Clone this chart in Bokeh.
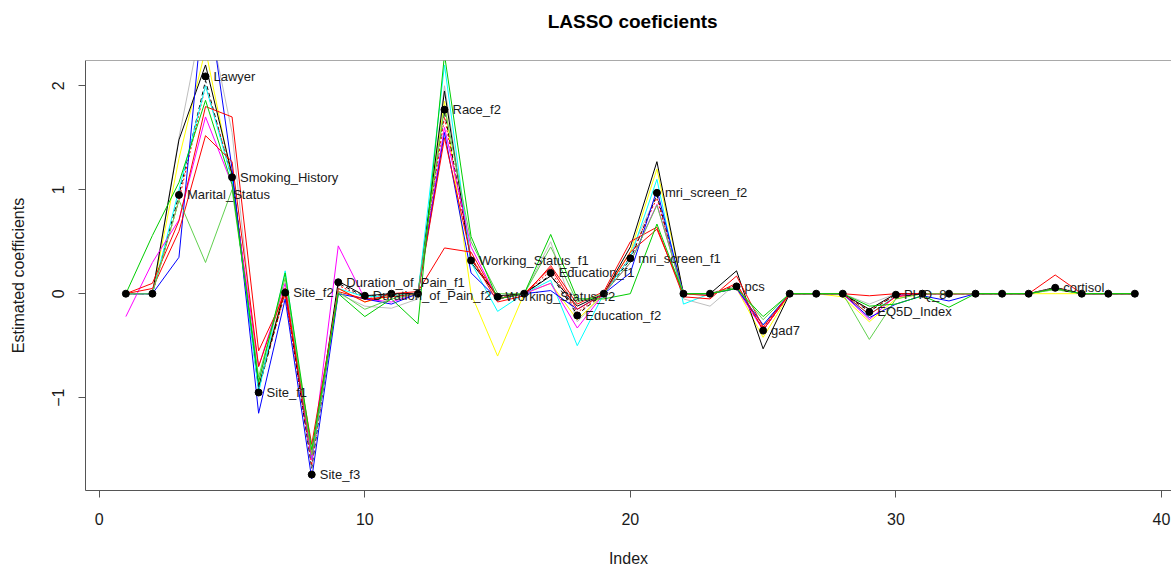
from bokeh.plotting import figure
from bokeh.layouts import column
from bokeh.models import Range1d, Span, FixedTicker, ColumnDataSource
from bokeh.core.properties import value
from bokeh.embed import file_html
from bokeh.resources import INLINE

# Coefficient index (1..39)
index = list(range(1, 40))

# Final (averaged) LASSO coefficients, drawn as black dots
coef = [0, 0, 0.95, 2.09, 1.12, -0.95, 0.01, -1.74, 0.11, -0.02,
        0, 0, 1.77, 0.32, -0.03, 0, 0.20, -0.21, 0, 0.34,
        0.97, 0, 0, 0.07, -0.355, 0, 0, 0, -0.175, -0.01,
        0, 0, 0, 0, 0, 0.057, 0, 0, 0]

# Names written next to the non-zero coefficients
names = ["", "", "Marital_Status", "Lawyer", "Smoking_History", "Site_f1", "Site_f2", "Site_f3",
         "Duration_of_Pain_f1", "Duration_of_Pain_f2", "", "", "Race_f2", "Working_Status_f1",
         "Working_Status_f2", "", "Education_f1", "Education_f2", "", "mri_screen_f1",
         "mri_screen_f2", "", "", "pcs", "gad7", "", "", "", "EQ5D_Index", "PHQ_8",
         "", "", "", "", "", "cortisol", "", "", ""]

# Coefficients from the individual resampled fits
run_gray = [0, 0, 1.5, 2.8, 1.55, -0.85, 0.05, -1.6, 0.0, -0.12,
            -0.14, -0.05, 2.0, 0.35, -0.05, 0, 0.5, -0.27, 0, 0.4,
            0.95, -0.05, -0.12, 0.1, -0.35, 0, 0, 0, -0.1, 0,
            0, 0, 0, 0, 0, 0.04, 0, 0, 0]
run_yellow = [0, 0, 1.3, 2.35, 1.1, -0.9, 0.05, -1.6, 0.05, -0.08,
              -0.02, 0, 1.85, 0.0, -0.6, 0, 0.1, -0.25, 0, 0.4,
              1.2, 0, 0, 0.05, -0.42, 0, 0, -0.03, -0.27, -0.05,
              0, 0, 0, 0, 0, 0.0, 0, 0, 0]
run_black_dash = [0, 0, 0.95, 2.05, 1.1, -0.92, 0.02, -1.68, 0.1, -0.03,
                  0, 0, 1.75, 0.33, -0.03, 0, 0.18, -0.2, 0, 0.33,
                  0.95, 0, 0, 0.07, -0.35, 0, 0, 0, -0.17, -0.01,
                  0, 0, 0, 0, 0, 0.05, 0, 0, 0]
run_red_dot = [0, 0, 0.9, 2.0, 1.15, -0.9, 0.0, -1.65, 0.08, -0.04,
               0, 0, 1.7, 0.35, -0.04, 0, 0.22, -0.18, 0, 0.36,
               0.92, 0, 0, 0.08, -0.33, 0, 0, 0, -0.16, -0.01,
               0, 0, 0, 0, 0, 0.06, 0, 0, 0]
run_black = [0, 0, 1.48, 2.2, 1.15, -0.9, 0.05, -1.6, 0.12, -0.02,
             0, 0, 1.95, 0.3, -0.02, 0, 0.17, -0.12, 0, 0.45,
             1.27, 0, 0, 0.22, -0.53, 0, 0, 0, -0.15, 0,
             0, 0, 0, 0, 0, 0.06, 0, 0, 0]
run_cyan = [0, 0, 1.0, 2.0, 1.1, -0.95, 0.22, -1.6, 0.05, -0.03,
            -0.02, 0, 2.2, 0.3, -0.17, 0, 0.13, -0.5, 0, 0.35,
            1.1, -0.1, 0, 0.05, -0.3, 0, 0, 0, -0.2, -0.02,
            0, 0, 0, 0, 0, 0.05, 0, 0, 0]
run_magenta = [-0.22, 0.3, 0.71, 1.7, 1.05, -0.7, 0.1, -1.6, 0.46, -0.05,
               -0.08, 0, 1.6, 0.45, -0.05, 0, 0.1, -0.33, 0, 0.3,
               0.86, 0, 0, 0.05, -0.35, 0, 0, 0, -0.25, -0.02,
               0, 0, 0, 0, 0, 0.05, 0, 0, 0]
run_blue = [0, 0, 0.35, 3.0, 1.2, -1.15, -0.05, -1.78, 0.0, -0.05,
            -0.1, 0, 1.55, 0.2, -0.05, 0.0, 0.03, -0.15, 0, 0.2,
            1.0, 0, 0, 0.05, -0.3, 0, 0, 0, -0.23, -0.1,
            -0.02, -0.07, 0, 0, 0, 0.05, 0, 0, 0]
run_red_b = [0, 0.05, 0.6, 1.52, 1.27, -0.7, 0.05, -1.55, 0.05, -0.08,
             0, 0.02, 0.44, 0.4, -0.05, 0, 0.25, -0.15, 0, 0.4,
             0.62, 0, -0.02, 0.1, -0.35, 0, 0, 0, -0.2, -0.03,
             0, 0, 0, 0, 0, 0.05, 0, 0, 0]
run_red_a = [0, 0.1, 0.7, 1.8, 1.7, -0.55, 0.0, -1.45, 0.02, -0.05,
             -0.03, 0, 1.5, 0.35, -0.08, -0.02, 0.27, -0.1, 0.02, 0.5,
             0.64, -0.03, -0.05, 0.17, -0.32, 0, 0, 0, -0.02, 0,
             0, 0, 0, 0, 0, 0.18, 0, 0, 0]
run_lightgreen = [0, 0.0, 0.9, 0.3, 1.0, -0.8, 0.15, -1.55, 0.02, -0.15,
                  -0.05, 0, 1.8, 0.5, 0, 0, 0.45, -0.08, 0, 0.3,
                  0.85, 0, 0, 0.06, -0.25, 0, 0, 0, -0.44, -0.05,
                  0, 0, 0, 0, 0, 0.04, 0, 0, 0]
run_green = [0, 0.56, 1.07, 1.86, 1.05, -0.85, 0.2, -1.5, 0.0, -0.22,
             -0.05, -0.29, 2.3, 0.55, -0.05, 0, 0.57, -0.05, -0.05, 0.0,
             0.67, 0, 0, 0.05, -0.22, 0, 0, 0, -0.12, -0.1,
             -0.02, -0.13, 0, 0, 0, 0.05, 0, 0, 0]

runs = [
    (run_gray, "#BEBEBE", "solid"),
    (run_yellow, "#FFFF00", "solid"),
    (run_black_dash, "#000000", "4 3"),
    (run_red_dot, "#FF0000", "2 2"),
    (run_black, "#000000", "solid"),
    (run_cyan, "#00FFFF", "solid"),
    (run_magenta, "#FF00FF", "solid"),
    (run_blue, "#0000FF", "solid"),
    (run_red_b, "#FF0000", "solid"),
    (run_red_a, "#FF0000", "solid"),
    (run_lightgreen, "#61D04F", "solid"),
    (run_green, "#00CD00", "solid"),
]

FONT = "Liberation Sans"
TXT = "#1a1a1a"
Y_TOP = 2.243
W = 1171
HEAD = 40

# --- heading strip carrying the main title ---
head = figure(width=W, height=HEAD, output_backend="svg", toolbar_location=None,
              x_range=Range1d(0, W), y_range=Range1d(0, HEAD),
              x_axis_location=None, y_axis_location=None,
              min_border=0, outline_line_color=None)
head.grid.visible = False
head.text(x=[590], y=[HEAD - 21], text=["LASSO coeficients"], text_align="center",
          text_baseline="middle", text_font=value(FONT), text_font_size="19px",
          text_font_style="bold", text_color="#000000")

# --- coefficient plot ---
p = figure(width=W, height=569 - HEAD, output_backend="svg", toolbar_location=None,
           x_range=Range1d(-0.52, 40.38), y_range=Range1d(-1.893, Y_TOP),
           min_border_left=85, min_border_right=0, min_border_top=60 - HEAD,
           min_border_bottom=77)

p.grid.visible = False
p.outline_line_color = None
p.background_fill_color = "white"
p.border_fill_color = "white"

for ax in (p.xaxis[0], p.yaxis[0]):
    ax.axis_line_color = "#555555"
    ax.major_tick_line_color = "#555555"
    ax.minor_tick_line_color = None
    ax.major_tick_out = 7
    ax.major_tick_in = 0
    ax.major_label_text_font = FONT
    ax.major_label_text_font_size = "16px"
    ax.major_label_text_color = TXT
    ax.axis_label_text_font = FONT
    ax.axis_label_text_font_size = "16px"
    ax.axis_label_text_font_style = "normal"
    ax.axis_label_text_color = TXT

p.xaxis.ticker = FixedTicker(ticks=[0, 10, 20, 30, 40])
p.yaxis.ticker = FixedTicker(ticks=[-1, 0, 1, 2])
p.xaxis.axis_label = "Index"
p.yaxis.axis_label = "Estimated coefficients"
p.xaxis.major_label_standoff = 15
p.xaxis.axis_label_standoff = 22
p.yaxis.major_label_standoff = 14
p.yaxis.axis_label_standoff = 23
p.yaxis.major_label_orientation = "vertical"

# top edge of the plotting box
p.add_layout(Span(location=Y_TOP, dimension="width", line_color="#555555", line_width=1))

for vals, col, dash in runs:
    p.line(index, vals, line_color=col, line_width=1, line_dash=dash)

p.scatter(index, coef, size=7, marker="circle", fill_color="black", line_color="black")

lab = ColumnDataSource(dict(
    x=[i for i, n in zip(index, names) if n],
    y=[c for c, n in zip(coef, names) if n],
    t=[n for n in names if n],
))
p.text(x="x", y="y", text="t", source=lab, x_offset=8, text_baseline="middle",
       text_align="left", text_font=value(FONT), text_font_size="13px", text_color=TXT)

page = column(head, p, spacing=0)
open("out.html", "w").write(file_html(page, INLINE))
